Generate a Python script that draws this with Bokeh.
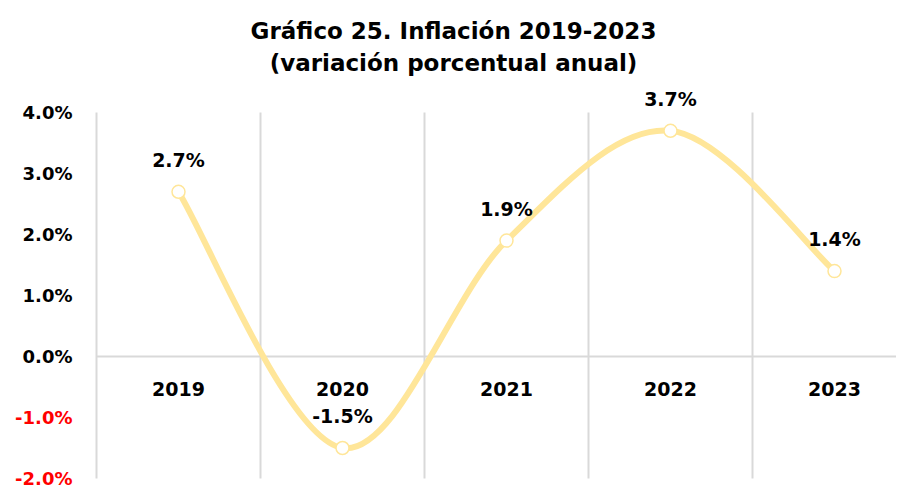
from bokeh.plotting import figure
from bokeh.models import Range1d, ColumnDataSource
from bokeh.core.properties import value
from bokeh.embed import file_html
from bokeh.resources import INLINE

# ---- data ----
years = ["2019", "2020", "2021", "2022", "2023"]
inflation = [2.7, -1.5, 1.9, 3.7, 1.4]
point_labels = ["2.7%", "-1.5%", "1.9%", "3.7%", "1.4%"]
y_ticks = [4, 3, 2, 1, 0, -1, -2]
y_tick_labels = ["4.0%", "3.0%", "2.0%", "1.0%", "0.0%", "-1.0%", "-2.0%"]
title_line1 = "Gráfico 25. Inflación 2019-2023"
title_line2 = "(variación porcentual anual)"

FONT = "DejaVu Sans"
LINE_COLOR = "#FFE699"
GRID_COLOR = "#D9D9D9"

xs = list(range(len(years)))
n = len(xs)
y_min, y_max = min(y_ticks), max(y_ticks)
x_left = xs[0] - 0.5

# smoothed line (Catmull-Rom style bezier segments, like a spreadsheet "smoothed line")
seg = dict(x0=[], y0=[], x1=[], y1=[], cx0=[], cy0=[], cx1=[], cy1=[])
for i in range(n - 1):
    pm = i - 1 if i > 0 else 0
    pp = i + 2 if i + 2 < n else n - 1
    seg["x0"].append(xs[i]); seg["y0"].append(inflation[i])
    seg["x1"].append(xs[i + 1]); seg["y1"].append(inflation[i + 1])
    seg["cx0"].append(xs[i] + (xs[i + 1] - xs[pm]) / 6)
    seg["cy0"].append(inflation[i] + (inflation[i + 1] - inflation[pm]) / 6)
    seg["cx1"].append(xs[i + 1] - (xs[pp] - xs[i]) / 6)
    seg["cy1"].append(inflation[i + 1] - (inflation[pp] - inflation[i]) / 6)

W, H = 896, 489
LEFT, TOP, BOTTOM = 96, 112, 478       # plot-area edges in px
px_per_x = 164.0
px_per_y = (BOTTOM - TOP) / (y_max - y_min)
xr = Range1d(x_left - LEFT / px_per_x, x_left + (W - LEFT) / px_per_x)
yr = Range1d(y_min - (H - BOTTOM) / px_per_y, y_max + TOP / px_per_y)

p = figure(width=W, height=H, output_backend="svg", toolbar_location=None,
           x_range=xr, y_range=yr, x_axis_location=None, y_axis_location=None,
           min_border=0)
p.outline_line_color = None
p.grid.grid_line_color = None

# vertical grid lines at category boundaries (first one acts as the value axis line)
bounds = [x_left + k for k in range(n)]
p.segment(x0=bounds, x1=bounds, y0=[y_min] * n, y1=[y_max] * n,
          line_color=GRID_COLOR, line_width=2)
# zero line (category axis)
p.segment(x0=[x_left], x1=[xr.end], y0=[0], y1=[0], line_color=GRID_COLOR, line_width=2)

p.bezier(x0="x0", y0="y0", x1="x1", y1="y1", cx0="cx0", cy0="cy0", cx1="cx1", cy1="cy1",
         source=ColumnDataSource(seg), line_color=LINE_COLOR, line_width=6)
p.scatter(xs, inflation, size=13, fill_color="white", line_color=LINE_COLOR, line_width=1.5)

p.text(xs, inflation, text=point_labels, text_font=value(FONT), text_font_style="bold",
       text_font_size="19px", text_align="center", text_baseline="middle",
       y_offset=-32, text_color="black")
p.text(xs, [0] * n, text=years, text_font=value(FONT), text_font_style="bold",
       text_font_size="19px", text_align="center", text_baseline="middle",
       y_offset=32, text_color="black")

# value-axis tick labels (negatives in red)
p.text([x_left] * len(y_ticks), y_ticks, text=y_tick_labels,
       text_color=["#FF0000" if v < 0 else "black" for v in y_ticks],
       text_font=value(FONT), text_font_style="bold", text_font_size="18px",
       text_align="right", text_baseline="middle", x_offset=-24)

# title (two lines)
x_mid = xr.start + 453 / px_per_x
p.text([x_mid], [yr.end], text=[title_line1], text_font=value(FONT), text_font_style="bold",
       text_font_size="23px", text_align="center", text_baseline="middle",
       y_offset=30, text_color="black")
p.text([x_mid], [yr.end], text=[title_line2], text_font=value(FONT), text_font_style="bold",
       text_font_size="23px", text_align="center", text_baseline="middle",
       y_offset=62, text_color="black")

open("out.html", "w").write(file_html(p, INLINE))
